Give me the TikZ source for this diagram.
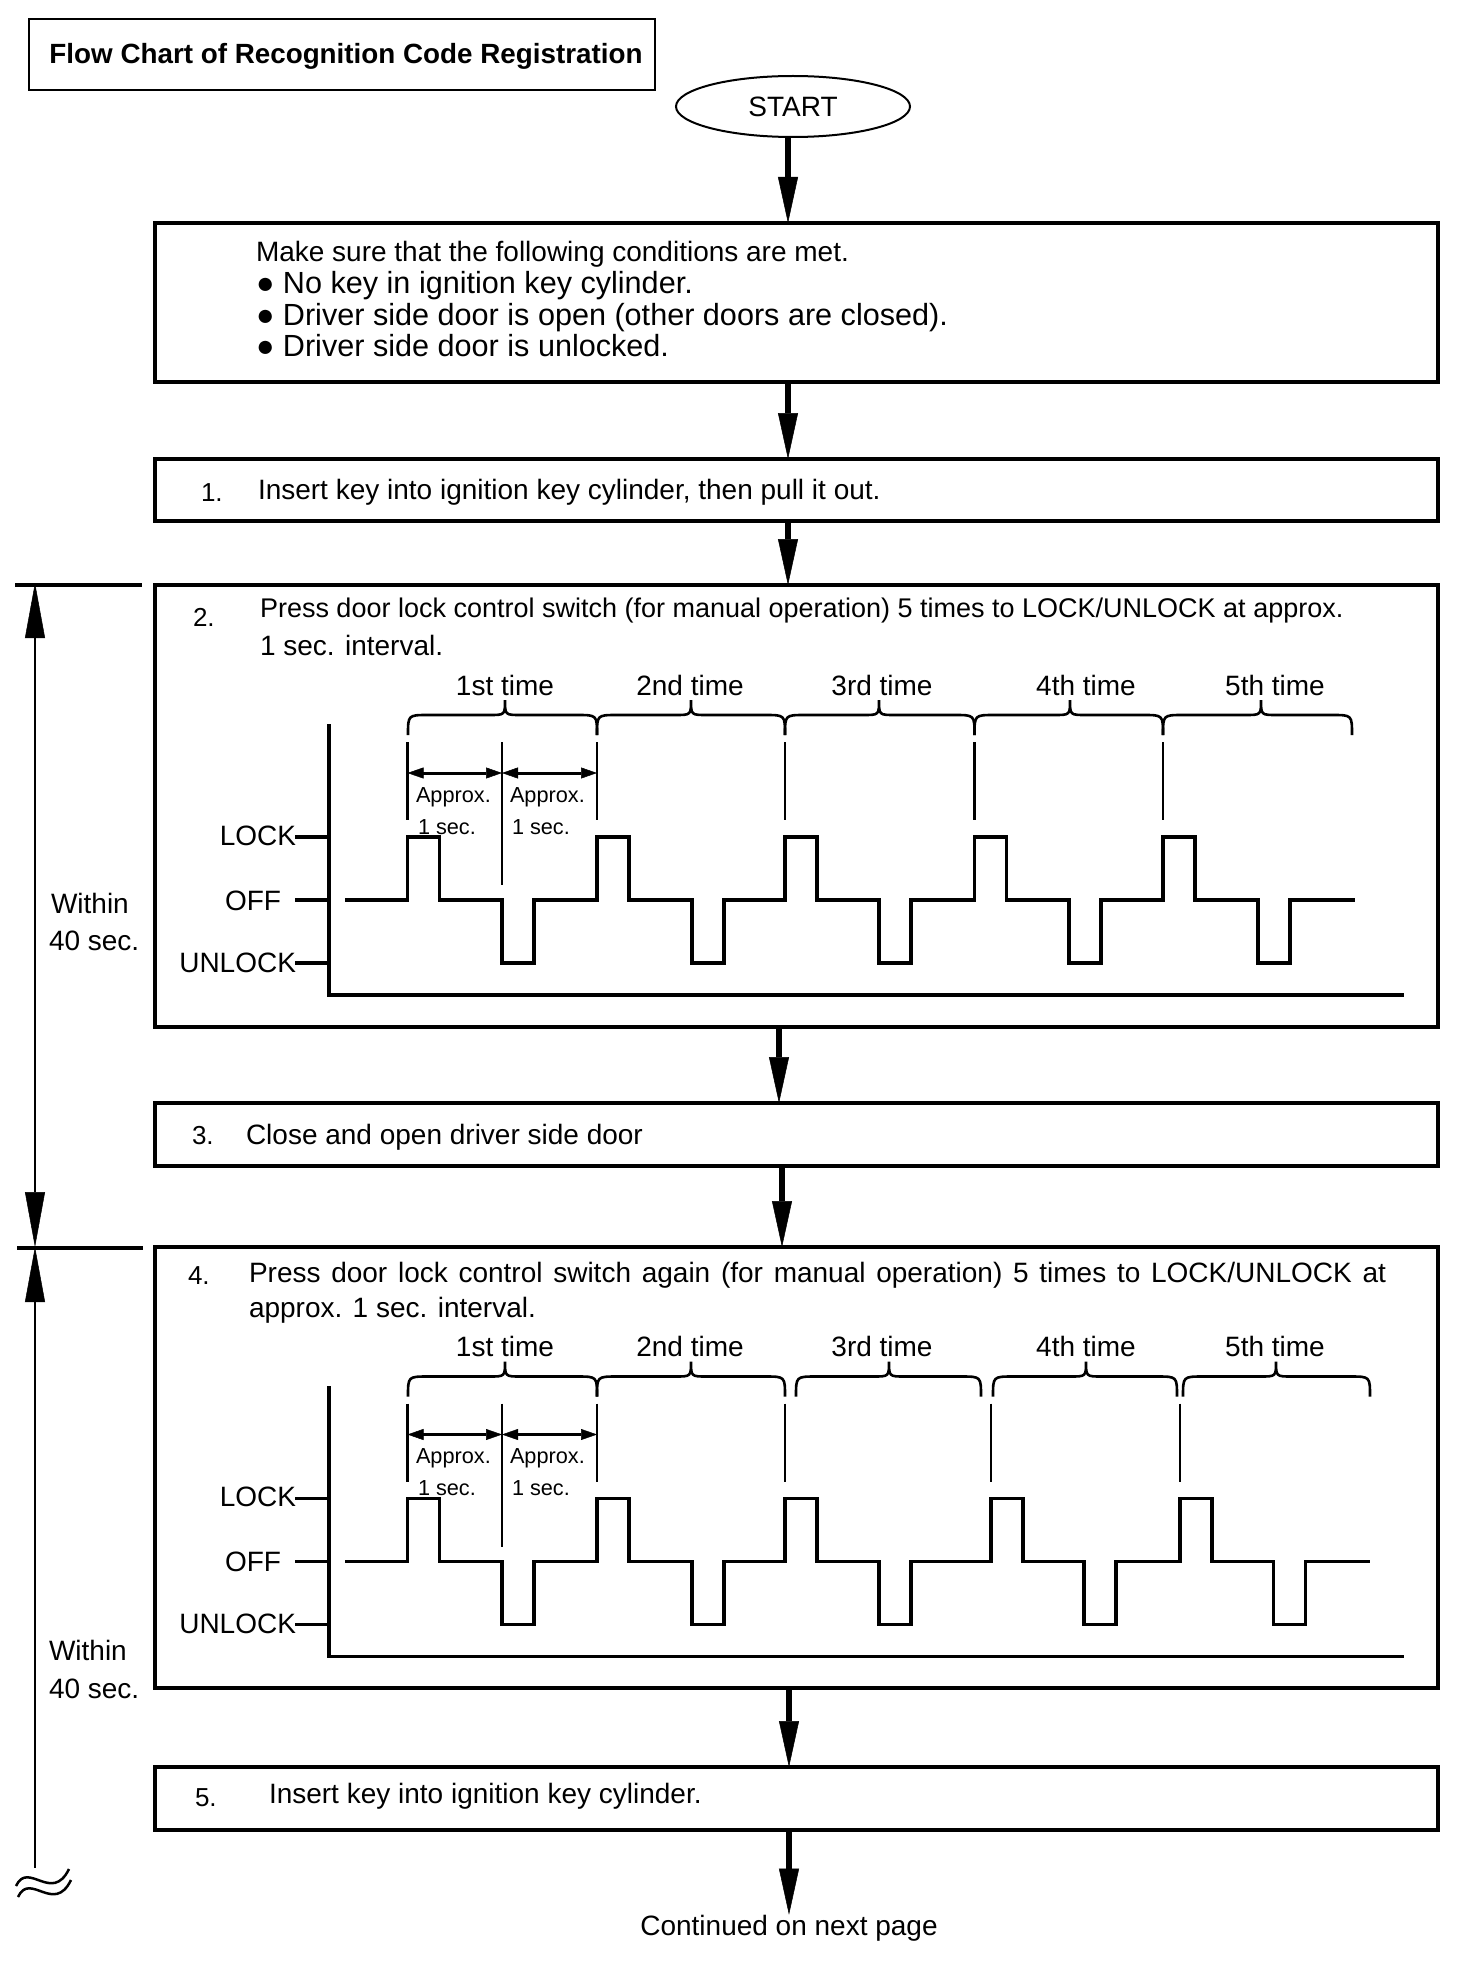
\documentclass[tikz,border=0pt]{standalone}
\usepackage{fontspec}
\setmainfont{Liberation Sans}
\usetikzlibrary{arrows.meta,shapes.geometric}
\newcommand\timingdiagram[5]{%
  \draw[axis] (329,726) -- (329,995) -- (1402,995);
  \draw[axis] (297,837) -- (329,837) (297,900) -- (329,900) (297,963) -- (329,963);
  \node[anchor=base east] (lock#1) at (296,845) {LOCK};
  \node[anchor=base east] (off#1) at (281,910) {OFF};
  \node[anchor=base east] (unlock#1) at (296,972) {UNLOCK};
  \draw[wave] (345,900) \foreach \pl/\pu in {#2} { -- (\pl,900) -- (\pl,837) -- ({\pl+32},837) -- ({\pl+32},900) -- (\pu,900) -- (\pu,963) -- ({\pu+32},963) -- ({\pu+32},900) } -- (#3,900);
  \foreach \pm in {#4} { \draw[marker] (\pm,742) -- (\pm,820); }
  \draw[marker] (502,742) -- (502,885);
  \foreach \ba/\bb/\bc in {#5} {
    \draw[brace] (\ba,735) .. controls (\ba,715) .. ({\ba+20},715) -- ({\bc-16},715) .. controls (\bc,715) .. (\bc,700) .. controls (\bc,715) .. ({\bc+16},715) -- ({\bb-20},715) .. controls (\bb,715) .. (\bb,735);
  }
  \node[anchor=base] (first#1) at (505,695) {1st time};
  \node[anchor=base] (second#1) at (690,695) {2nd time};
  \node[anchor=base] (third#1) at (882,695) {3rd time};
  \node[anchor=base] (fourth#1) at (1086,695) {4th time};
  \node[anchor=base] (fifth#1) at (1275,695) {5th time};
  \coordinate (da#1) at (407.5,773);
  \coordinate (db#1) at (502,773);
  \coordinate (dc#1) at (597,773);
  \draw[dimarr] (da#1) -- (db#1);
  \draw[dimarr] (db#1) -- (dc#1);
  \node[small,anchor=base west] (apa#1) at (416,802) {Approx.};
  \node[small,anchor=base west] (apb#1) at (418,834) {1 sec.};
  \node[small,anchor=base west] (apc#1) at (510,802) {Approx.};
  \node[small,anchor=base west] (apd#1) at (512,834) {1 sec.};
}
\begin{document}
\begin{tikzpicture}[x=1pt,y=-1pt,
  font=\fontsize{28}{32}\selectfont,
  every node/.style={inner sep=0pt, outer sep=0pt},
  small/.style={font=\fontsize{21.7}{24}\selectfont},
  bul/.style={anchor=base west, font=\fontsize{30.6}{34}\selectfont},
  num/.style={anchor=base west, font=\fontsize{26}{30}\selectfont},
  txt/.style={anchor=base west},
  box/.style={draw, line width=3.5pt, minimum width=1283pt},
  flow/.style={line width=6pt, -{Triangle[length=46pt,width=20pt,line width=0.5pt]}},
  axis/.style={line width=3.5pt, line join=miter, line cap=rect},
  wave/.style={line width=3.5pt, line join=miter},
  marker/.style={line width=2.6pt},
  brace/.style={line width=2.6pt},
  dimarr/.style={line width=3pt, {Triangle[length=16pt,width=11pt,line width=0.5pt]}-{Triangle[length=16pt,width=11pt,line width=0.5pt]}},
  leftdim/.style={line width=2.6pt},
  bigtip/.tip={Triangle[length=55pt,width=20pt,line width=0.5pt]},
  tick/.style={line width=3.5pt},
  wavy/.style={line width=2.5pt}
]
\fill[white] (0,0) rectangle (1472,1964);
\useasboundingbox (0,0) rectangle (1472,1964);

% title
\node[draw, line width=2.5pt, minimum width=626pt, minimum height=71pt] (titlebox) at (342,54.5) {};
\node[anchor=base, font=\bfseries\fontsize{27.8}{32}\selectfont] (title) at (346,64) {Flow Chart of Recognition Code Registration};

% start
\node[draw, ellipse, line width=2pt, minimum width=234pt, minimum height=61pt] (start) at (793,106.5) {START};

% boxes
\node[box, minimum height=159pt] (box0) at (796.5,302.5) {};
\node[box, minimum height=62pt] (box1) at (796.5,490) {};
\node[box, minimum height=442pt] (box2) at (796.5,806) {};
\node[box, minimum height=63pt] (box3) at (796.5,1134.5) {};
\node[box, minimum height=441pt] (box4) at (796.5,1467.5) {};
\node[box, minimum height=63pt] (box5) at (796.5,1798.5) {};

% box 0 text
\node[txt] (c1) at (256,261) {Make sure that the following conditions are met.};
\node[bul] (c2) at (256,293) {● No key in ignition key cylinder.};
\node[bul] (c3) at (256,325) {● Driver side door is open (other doors are closed).};
\node[bul] (c4) at (256,356) {● Driver side door is unlocked.};

% box 1
\node[num] (n1) at (201,501) {1.};
\node[txt] (t1) at (258,499) {Insert key into ignition key cylinder, then pull it out.};

% box 2
\node[num] (n2) at (193,626) {2.};
\node[txt, font=\fontsize{27}{32}\selectfont] (t2a) at (260,617) {Press door lock control switch (for manual operation) 5 times to LOCK/UNLOCK at approx.};
\node[txt] (t2b) at (260,655) {1 sec. interval.};
\timingdiagram{a}{407.5/502,597/692,785/879,974.5/1069,1163/1258}{1355}{407.5,597,785,974.5,1163}{408/597/505,597/785/691,785/974.5/879,974.5/1163/1070,1163/1352/1261}

% box 3
\node[num] (n3) at (192,1144) {3.};
\node[txt] (t3) at (246,1144) {Close and open driver side door};

% box 4
\node[num] (n4) at (188,1284) {4.};
\node[txt] (t4a) at (249,1282) {\makebox[1137pt][s]{Press door lock control switch again (for manual operation) 5 times to LOCK/UNLOCK at}};
\node[txt] (t4b) at (249,1317) {approx. 1 sec. interval.};
\begin{scope}[shift={(0,661.5)}]
\timingdiagram{b}{407.5/502,597/692,785/879,991/1084,1180/1273.5}{1370}{407.5,597,785,991,1180}{408/597/505,597/785/691,796/981/889,993/1177/1086,1183/1370/1276}
\end{scope}

% box 5
\node[num] (n5) at (195,1806) {5.};
\node[txt] (t5) at (269,1803) {Insert key into ignition key cylinder.};

\node[anchor=base] (cont) at (789,1935) {Continued on next page};

% flow arrows
\coordinate (colA) at (788,0);
\coordinate (colB) at (779,0);
\coordinate (colC) at (782,0);
\coordinate (colD) at (789,0);
\draw[flow] (start.south -| colA) -- (box0.north -| colA);
\draw[flow] (box0.south -| colA) -- (box1.north -| colA);
\draw[flow] (box1.south -| colA) -- (box2.north -| colA);
\draw[flow] (box2.south -| colB) -- (box3.north -| colB);
\draw[flow] (box3.south -| colC) -- (box4.north -| colC);
\draw[flow] (box4.south -| colD) -- (box5.north -| colD);
\draw[flow] (box5.south -| colD) -- (cont.north -| colD);

% left dimension
\coordinate (ta) at (15,585);
\coordinate (tb) at (142,585);
\coordinate (tc) at (17,1248);
\coordinate (td) at (143,1248);
\draw[tick] (ta) -- (tb);
\draw[tick] (tc) -- (td);
\coordinate (d1) at (35,583);
\coordinate (d2) at (35,1247);
\coordinate (d3) at (35,1868);
\draw[leftdim, bigtip-bigtip] (d1) -- (d2);
\draw[leftdim, bigtip-] (d2) -- (d3);
\node[txt] (w1) at (51,913) {Within};
\node[txt] (w2) at (49,950) {40 sec.};
\node[txt] (w3) at (49,1660) {Within};
\node[txt] (w4) at (49,1698) {40 sec.};

% break symbol
\draw[wavy] (16,1886) .. controls (28,1860) and (52,1904) .. (69,1869);
\draw[wavy] (18,1897) .. controls (30,1871) and (54,1915) .. (71,1880);
\end{tikzpicture}
\end{document}
